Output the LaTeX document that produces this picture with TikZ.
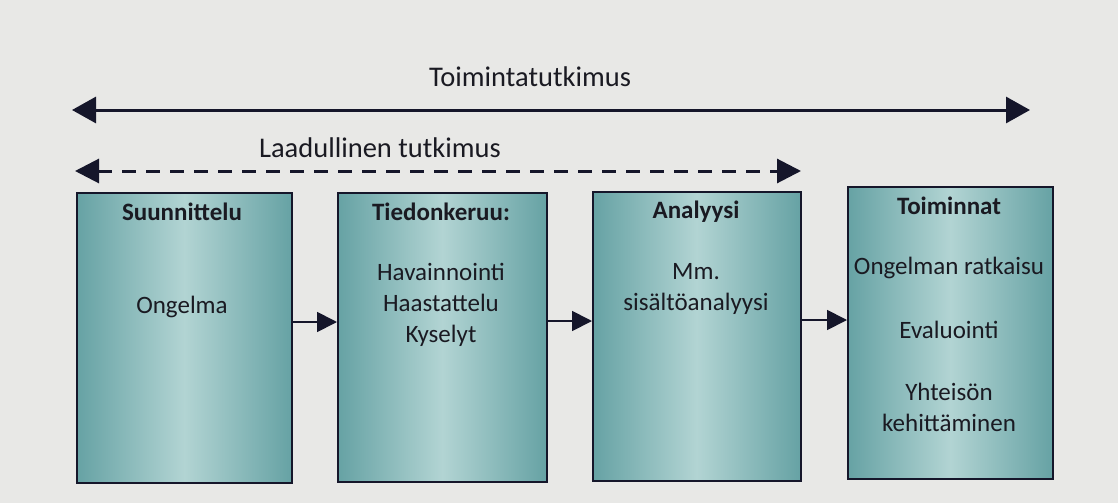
\documentclass[tikz,border=0pt]{standalone}
\usepackage{fontspec}
\setmainfont{Carlito}
\usetikzlibrary{arrows.meta}
\definecolor{bg}{HTML}{E8E8E6}
\definecolor{ink}{HTML}{15162A}
\definecolor{tealdark}{HTML}{66A2A4}
\definecolor{teallight}{HTML}{B2D4D3}
\definecolor{txt}{HTML}{1A1A22}
\begin{document}
\begin{tikzpicture}[x=1pt,y=-1pt,
  box/.style={draw=ink, line width=1.5pt, left color=tealdark, right color=tealdark,
    middle color=teallight, inner sep=0pt, anchor=north west},
  toplabel/.style={text=txt, font=\fontsize{28.5}{34}\selectfont, inner sep=0pt},
  boxtitle/.style={text=txt, font=\bfseries\fontsize{25}{30}\selectfont, inner sep=0pt},
  boxtext/.style={text=txt, font=\fontsize{25}{31}\selectfont, inner sep=0pt, align=center},
  span/.style={draw=ink, line width=3pt, {Triangle[length=24pt,width=26pt]}-{Triangle[length=24pt,width=26pt]}},
  spandash/.style={draw=ink, line width=3pt, dash pattern=on 14pt off 10pt,
    {Triangle[length=24pt,width=24pt]}-{Triangle[length=24pt,width=24pt]}},
  flow/.style={draw=ink, line width=1.8pt, -{Triangle[length=20pt,width=20pt]}}
]
\fill[bg] (0,0) rectangle (1118,503);
\useasboundingbox (0,0) rectangle (1118,503);

% spanning arrows
\coordinate (tl) at (72,110);
\coordinate (tr) at (1030,110);
\coordinate (dl) at (75,171);
\coordinate (dr) at (801,171);
\node[toplabel] (toim) at (530,77) {Toimintatutkimus};
\node[toplabel] (laad) at (380,148) {Laadullinen tutkimus};
\draw[span] (tl) -- (tr);
\draw[spandash] (dl) -- (dr);

% boxes
\node[box, minimum width=215pt, minimum height=290pt] (b1) at (76,192) {};
\node[box, minimum width=209pt, minimum height=289pt] (b2) at (337,192) {};
\node[box, minimum width=208pt, minimum height=289pt] (b3) at (592,191) {};
\node[box, minimum width=205pt, minimum height=292pt] (b4) at (847,186) {};

% box texts
\node[boxtitle] (t1) at (182,212) {Suunnittelu};
\node[boxtext] (o1) at (182,307) {Ongelma};

\node[boxtitle] (t2) at (441,212) {Tiedonkeruu:};
\node[boxtext] (o2) at (441,305) {Havainnointi\\Haastattelu\\Kyselyt};

\node[boxtitle] (t3) at (696,212) {Analyysi};
\node[boxtext] (o3) at (696,289) {Mm.\\sisältöanalyysi};

\node[boxtitle] (t4) at (949,206) {Toiminnat};
\node[boxtext] (o4a) at (949,268) {Ongelman ratkaisu};
\node[boxtext] (o4b) at (949,330) {Evaluointi};
\node[boxtext] (o4c) at (949,407) {Yhteisön\\kehittäminen};

% flow arrows
\draw[flow] (b1.east |- 0,322) -- (b2.west |- 0,322);
\draw[flow] (b2.east |- 0,321) -- (b3.west |- 0,321);
\draw[flow] (b3.east |- 0,320) -- (b4.west |- 0,320);
\end{tikzpicture}
\end{document}
